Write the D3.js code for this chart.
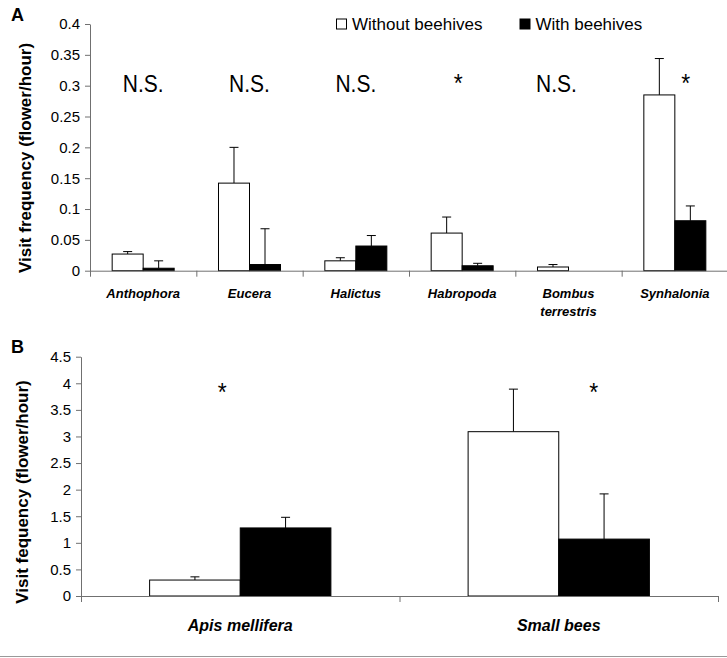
<!DOCTYPE html>
<html>
  <head>
    <meta charset="utf-8">
    <script src="https://cdn.jsdelivr.net/npm/d3@7"></script>
    <style>
        body { margin: 0; background: #fff; }
        text { font-family: Arial, "Liberation Sans", sans-serif; fill: #000; }
        .tick text { font-size: 15px; }
    </style>
  </head>

  <body>
    <div id="my_dataviz"></div>
  </body>

  <script>

    // panel A data
    let catsA = ["Anthophora", "Eucera", "Halictus", "Habropoda", "Bombus terrestris", "Synhalonia"];
    let withoutA = [0.027, 0.142, 0.016, 0.061, 0.006, 0.285];
    let withoutSeA = [0.004, 0.058, 0.005, 0.026, 0.004, 0.059];
    let withA = [0.004, 0.010, 0.040, 0.008, 0, 0.081];
    let withSeA = [0.012, 0.058, 0.017, 0.004, 0, 0.024];
    let sigA = ["N.S.", "N.S.", "N.S.", "*", "N.S.", "*"];
    let ticksA = [0, 0.05, 0.1, 0.15, 0.2, 0.25, 0.3, 0.35, 0.4];

    // panel B data
    let catsB = ["Apis mellifera", "Small bees"];
    let withoutB = [0.30, 3.09];
    let withoutSeB = [0.06, 0.80];
    let withB = [1.28, 1.07];
    let withSeB = [0.20, 0.85];
    let sigB = ["*", "*"];
    let ticksB = [0, 0.5, 1, 1.5, 2, 2.5, 3, 3.5, 4, 4.5];

    let series = ["Without beehives", "With beehives"];
    let fills = ["#ffffff", "#000000"];

    let W = 727, H = 658;
    let axisColor = "#707070";

    let svg = d3.select("#my_dataviz")
                .append("svg")
                    .attr("width", W)
                    .attr("height", H);

    function drawPanel(p) {
        let g = svg.append("g");

        let x0 = d3.scaleBand().domain(p.cats).range(p.xRange).paddingInner(0).paddingOuter(0);
        let x1 = d3.scaleBand().domain(series).range([0, x0.bandwidth()]).paddingOuter(p.outerPad);
        let y = d3.scaleLinear().domain([0, d3.max(p.ticks)]).range(p.yRange);
        let idx = d3.scaleLinear().domain([0, p.cats.length]).range(p.xRange);

        // y axis
        let ya = g.append("g")
           .attr("transform", "translate(" + p.xRange[0] + ",0)")
           .call(d3.axisLeft(y).tickValues(p.ticks).tickSize(5).tickSizeOuter(0).tickPadding(5)
                   .tickFormat(function(d) { return String(d); }));
        ya.select(".domain").attr("stroke", axisColor);
        ya.selectAll(".tick line").attr("stroke", axisColor);

        // bars
        let rows = p.cats.map(function(c, i) {
            return [
                { cat: c, s: series[0], v: p.without[i], se: p.withoutSe[i] },
                { cat: c, s: series[1], v: p.with[i], se: p.withSe[i] }
            ];
        });
        let flat = rows.flat();

        // error bars drawn first so the bar outline sits over them
        let err = g.append("g").selectAll("g")
           .data(flat.filter(function(d) { return d.se > 0; }))
           .enter().append("g")
           .attr("stroke", "#000").attr("stroke-width", 1);
        err.append("line")
           .attr("x1", function(d) { return x0(d.cat) + x1(d.s) + x1.bandwidth() / 2; })
           .attr("x2", function(d) { return x0(d.cat) + x1(d.s) + x1.bandwidth() / 2; })
           .attr("y1", function(d) { return y(d.v); })
           .attr("y2", function(d) { return y(d.v + d.se); });
        err.append("line")
           .attr("x1", function(d) { return x0(d.cat) + x1(d.s) + x1.bandwidth() / 2 - 4.5; })
           .attr("x2", function(d) { return x0(d.cat) + x1(d.s) + x1.bandwidth() / 2 + 4.5; })
           .attr("y1", function(d) { return y(d.v + d.se); })
           .attr("y2", function(d) { return y(d.v + d.se); });

        g.append("g").selectAll("rect")
           .data(flat)
           .enter().append("rect")
             .attr("x", function(d) { return x0(d.cat) + x1(d.s); })
             .attr("y", function(d) { return y(d.v); })
             .attr("width", x1.bandwidth())
             .attr("height", function(d) { return y(0) - y(d.v); })
             .attr("fill", function(d) { return fills[series.indexOf(d.s)]; })
             .attr("stroke", "#000")
             .attr("stroke-width", 1);

        // x axis with ticks on category boundaries
        let xa = g.append("g")
           .attr("transform", "translate(0," + y(0) + ")")
           .call(d3.axisBottom(idx).tickValues(d3.range(p.cats.length + 1)).tickSize(6).tickSizeOuter(0)
                   .tickFormat(""));
        xa.select(".domain").attr("stroke", axisColor);
        xa.selectAll(".tick line").attr("stroke", axisColor);

        // category labels (bold italic, wrap on space when asked)
        let lab = g.append("g").selectAll("text")
           .data(p.cats)
           .enter().append("text")
             .attr("x", function(d) { return x0(d) + x0.bandwidth() / 2; })
             .attr("y", p.labelY)
             .attr("text-anchor", "middle")
             .style("font-size", p.labelSize + "px")
             .style("font-weight", "bold")
             .style("font-style", "italic");
        lab.each(function(d) {
            let words = p.wrap.indexOf(d) >= 0 ? d.split(" ") : [d];
            let t = d3.select(this);
            words.forEach(function(w, k) {
                t.append("tspan")
                 .attr("x", x0(d) + x0.bandwidth() / 2)
                 .attr("dy", k === 0 ? 0 : p.labelSize * 1.45)
                 .text(w);
            });
        });

        // significance marks (a bit taller than wide, like the original)
        g.append("g").selectAll("text")
           .data(p.sig)
           .enter().append("text")
             .attr("transform", function(d, i) {
                 let cx = x0(p.cats[i]) + x0.bandwidth() / 2 + p.sigNudge[i];
                 return "translate(" + cx + "," + p.sigY + ") scale(1,1.15)";
             })
             .attr("text-anchor", "middle")
             .style("font-size", function(d) { return d === "*" ? "23px" : "21px"; })
             .text(function(d) { return d; });

        // y title
        g.append("text")
           .attr("transform", "translate(" + p.titleX + "," + p.titleY + ") rotate(-90)")
           .attr("text-anchor", "middle")
           .style("font-size", "17px")
           .style("font-weight", "bold")
           .text(p.title);

        // panel letter
        g.append("text")
           .attr("x", 11)
           .attr("y", p.letterY)
           .style("font-size", "18px")
           .style("font-weight", "bold")
           .text(p.letter);
    }

    drawPanel({
        cats: catsA, without: withoutA, withoutSe: withoutSeA, with: withA, withSe: withSeA,
        sig: sigA, sigNudge: [0, 0, 0, -4, -12, 11], sigY: 91.5,
        ticks: ticksA, xRange: [90, 728], yRange: [270.7, 24], outerPad: 0.715,
        labelY: 297.5, labelSize: 13, wrap: ["Bombus terrestris"],
        title: "Visit frequency (flower/hour)", titleX: 31, titleY: 158,
        letter: "A", letterY: 21
    });

    drawPanel({
        cats: catsB, without: withoutB, withoutSe: withoutSeB, with: withB, withSe: withSeB,
        sig: sigB, sigNudge: [-18, 35], sigY: 401,
        ticks: ticksB, xRange: [81, 718], yRange: [596, 356.7], outerPad: 0.757,
        labelY: 631, labelSize: 16, wrap: [],
        title: "Visit fequency (flower/hour)", titleX: 28, titleY: 492,
        letter: "B", letterY: 353
    });

    // legend
    let legX = [336.5, 520];
    let leg = svg.append("g").selectAll("g")
        .data(series)
        .enter().append("g")
          .attr("transform", function(d, i) { return "translate(" + legX[i] + ",19)"; });
    leg.append("rect")
        .attr("width", 10).attr("height", 10)
        .attr("fill", function(d, i) { return fills[i]; })
        .attr("stroke", "#000").attr("stroke-width", 1);
    leg.append("text")
        .attr("x", 15.5).attr("y", 10.5)
        .style("font-size", "17px")
        .text(function(d) { return d; });

    // thin rule at the bottom
    svg.append("line")
       .attr("x1", 0).attr("x2", W)
       .attr("y1", 656.5).attr("y2", 656.5)
       .attr("stroke", "#999").attr("stroke-width", 1);

  </script>
</html>
